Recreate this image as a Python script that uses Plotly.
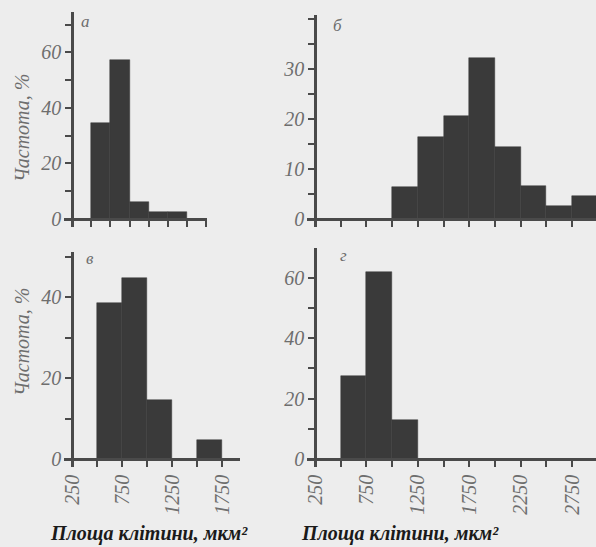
import plotly.graph_objects as go

W, H = 596, 547

# ---- data (bin left edges, µm², and frequency %) ----
bins_a = [500, 750, 1000, 1250, 1500]
freq_a = [34.5, 57.2, 6.2, 2.4, 2.4]

bins_b = [1000, 1250, 1500, 1750, 2000, 2250, 2500, 2750]
freq_b = [6.5, 16.5, 20.6, 32.3, 14.5, 6.6, 2.6, 4.6]

bins_v = [500, 750, 1000, 1250, 1500]
freq_v = [38.4, 44.6, 14.6, 0, 4.7]

bins_g = [500, 750, 1000]
freq_g = [27.4, 62.1, 13.0]

bin_width = 250
x_ticks = [250, 500, 750, 1000, 1250, 1500, 1750, 2000, 2250, 2500, 2750]
x_labels = ["250", "", "750", "", "1250", "", "1750", "", "2250", "", "2750"]

panel_letters = ["а", "б", "в", "г"]
y_title = "Частота, %"
x_title = "Площа клітини, мкм²"

BG = "#ededed"
BAR = "#3a3a3a"
AX = "#4a4a4a"
TXT = "#6e6e6e"
SERIF = "Liberation Serif"
OVER = 8  # axis overshoot in px


def fx(p):
    return p / W


def fy(p):
    return 1 - p / H


fig = go.Figure()

panels = [
    dict(bins=bins_a, freq=freq_a, xa="x", ya="y", ox=72, oy=219, right=207, top=12,
         px250=19.2, pyu=2.778, ytv=list(range(0, 80, 10)),
         ytt=["0", "", "20", "", "40", "", "60", ""], showx=False),
    dict(bins=bins_b, freq=freq_b, xa="x2", ya="y2", ox=315, oy=219, right=596, top=15,
         px250=25.7, pyu=5.0, ytv=list(range(0, 45, 5)),
         ytt=["0", "", "10", "", "20", "", "30", "", ""], showx=False),
    dict(bins=bins_v, freq=freq_v, xa="x3", ya="y3", ox=72, oy=459, right=240, top=252,
         px250=25.0, pyu=4.05, ytv=list(range(0, 55, 10)),
         ytt=["0", "", "20", "", "40", ""], showx=True),
    dict(bins=bins_g, freq=freq_g, xa="x4", ya="y4", ox=315, oy=459, right=596, top=248,
         px250=25.7, pyu=3.017, ytv=list(range(0, 75, 10)),
         ytt=["0", "", "20", "", "40", "", "60", ""], showx=True),
]

layout_axes = {}
for p in panels:
    centers = [b + bin_width / 2 for b in p["bins"]]
    fig.add_trace(go.Bar(
        x=centers, y=p["freq"], width=bin_width, xaxis=p["xa"], yaxis=p["ya"],
        marker=dict(color=BAR, line=dict(color=BAR, width=0.5)),
        showlegend=False, hoverinfo="skip",
    ))
    upx = 250 / p["px250"]
    x_start = 250 - OVER * upx
    x_end = 250 + (p["right"] - p["ox"]) * upx
    y_start = -OVER / p["pyu"]
    y_end = (p["oy"] - p["top"]) / p["pyu"]
    xkey = "xaxis" if p["xa"] == "x" else "xaxis" + p["xa"][1:]
    ykey = "yaxis" if p["ya"] == "y" else "yaxis" + p["ya"][1:]
    layout_axes[xkey] = dict(
        domain=[fx(p["ox"] - OVER), min(fx(p["right"]), 1.0)], range=[x_start, x_end],
        anchor="free", position=fy(p["oy"]), automargin=False,
        showline=True, linecolor=AX, linewidth=2.5, showgrid=False, zeroline=False,
        ticks="outside", ticklen=6, tickwidth=2, tickcolor=AX,
        tickvals=x_ticks, ticktext=x_labels if p["showx"] else [""] * len(x_ticks),
        tickangle=-90, tickfont=dict(family=SERIF, size=20, color=TXT, style="italic"),
        fixedrange=True,
    )
    layout_axes[ykey] = dict(
        domain=[fy(p["oy"] + OVER), fy(p["top"])], range=[y_start, y_end],
        anchor="free", position=fx(p["ox"]), automargin=False,
        showline=True, linecolor=AX, linewidth=2.5, showgrid=False, zeroline=False,
        ticks="outside", ticklen=6, tickwidth=2, tickcolor=AX,
        tickvals=p["ytv"], ticktext=p["ytt"],
        tickfont=dict(family=SERIF, size=20, color=TXT, style="italic"),
        fixedrange=True,
    )

annotations = []
for cy in (128, 342):
    annotations.append(dict(
        text=y_title, x=fx(22), y=fy(cy), xref="paper", yref="paper",
        xanchor="center", yanchor="middle", textangle=-90, showarrow=False,
        font=dict(family=SERIF, size=20, color=TXT, style="italic"),
    ))
for cx in (149, 400):
    annotations.append(dict(
        text=x_title, x=fx(cx), y=fy(533), xref="paper", yref="paper",
        xanchor="center", yanchor="middle", showarrow=False,
        font=dict(family=SERIF, size=20, color="#1a1a1a", style="italic", weight="bold"),
    ))
for letter, (lx, ly) in zip(panel_letters, [(85, 22), (337, 25), (90, 258), (343, 255)]):
    annotations.append(dict(
        text=letter, x=fx(lx), y=fy(ly), xref="paper", yref="paper",
        xanchor="center", yanchor="middle", showarrow=False,
        font=dict(family=SERIF, size=17, color=TXT, style="italic"),
    ))

fig.update_layout(
    width=W, height=H, margin=dict(l=0, r=0, t=0, b=0, pad=0),
    paper_bgcolor=BG, plot_bgcolor=BG, bargap=0,
    annotations=annotations, showlegend=False,
    **layout_axes,
)

fig.write_html(
    "out.html",
    config={"displayModeBar": False},
    post_script="document.body.style.margin='0px';document.body.style.background='#ededed';",
)
